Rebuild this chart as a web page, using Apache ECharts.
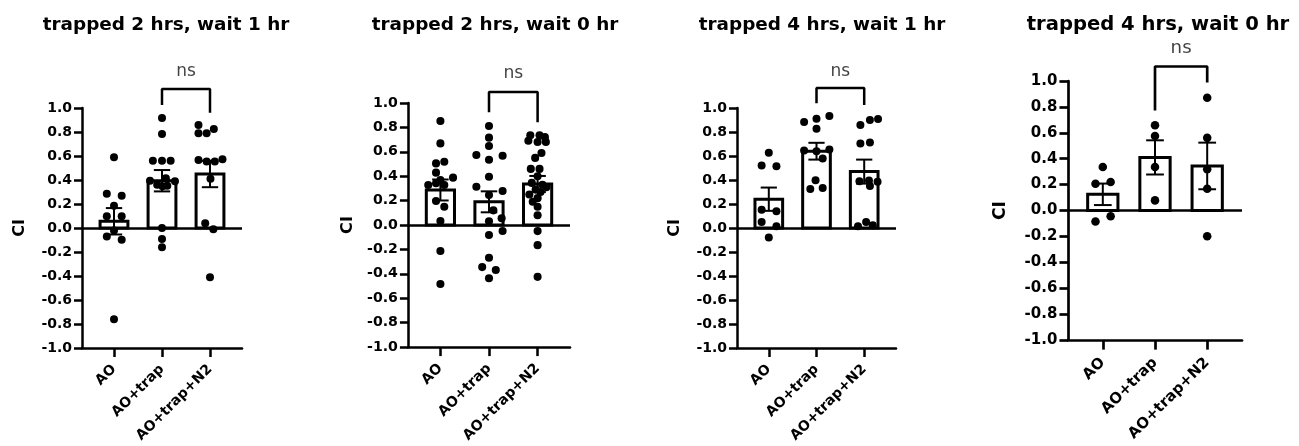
<!DOCTYPE html>
<html>
<head>
<meta charset="utf-8">
<script src="https://cdn.jsdelivr.net/npm/echarts@6/dist/echarts.min.js"></script>
<style>
  html, body { margin: 0; padding: 0; background: #fff; }
  #chart { width: 1299px; height: 446px; }
</style>
</head>
<body>
<div id="chart"></div>
<script>
// groups on the x axis
var groups = ["AO", "AO+trap", "AO+trap+N2"];
var titles = [
  "trapped 2 hrs, wait 1 hr",
  "trapped 2 hrs, wait 0 hr",
  "trapped 4 hrs, wait 1 hr",
  "trapped 4 hrs, wait 0 hr"
];
var yTicks = [-1.0, -0.8, -0.6, -0.4, -0.2, 0.0, 0.2, 0.4, 0.6, 0.8, 1.0];

// bar heights (mean) and error (SEM) per panel
var means = [
  [0.056, 0.394, 0.45],
  [0.287, 0.19, 0.336],
  [0.24, 0.64, 0.47],
  [0.125, 0.41, 0.344]
];
var sems = [
  [0.11, 0.089, 0.11],
  [0.086, 0.086, 0.066],
  [0.097, 0.07, 0.1],
  [0.083, 0.132, 0.18]
];

// individual points: [jitter, CI]
var p1AO = [[0, 0.589], [-0.15, 0.286], [0.16, 0.269], [0, 0.186], [-0.15, 0.097], [0.16, 0.097], [0, -0.02], [-0.15, -0.07], [0.16, -0.097], [0, -0.76]];
var p1Trap = [[0, 0.917], [0, 0.783], [-0.19, 0.561], [0, 0.561], [0.18, 0.561], [-0.25, 0.394], [0.08, 0.414], [0.27, 0.389], [-0.1, 0.361], [0.01, 0.347], [0.11, 0.353], [0, 0.0], [0, -0.092], [0, -0.161]];
var p1N2 = [[-0.24, 0.858], [-0.24, 0.789], [-0.07, 0.789], [0.08, 0.825], [-0.24, 0.567], [-0.07, 0.555], [0.1, 0.555], [0.26, 0.572], [0.01, 0.41], [-0.1, 0.039], [0.07, -0.011], [0, -0.41]];

var p2AO = [[0, 0.852], [0, 0.669], [-0.09, 0.505], [0.08, 0.519], [-0.09, 0.429], [0.26, 0.388], [-0.25, 0.328], [-0.09, 0.342], [0.08, 0.328], [0, 0.369], [-0.09, 0.197], [0.08, 0.15], [0, 0.033], [0, -0.213], [0, -0.484]];
var p2Trap = [[0, 0.811], [0, 0.716], [0, 0.648], [-0.26, 0.574], [0.28, 0.568], [0, 0.535], [0, 0.396], [-0.26, 0.314], [0.28, 0.279], [0, 0.246], [0.09, 0.12], [0.26, 0.055], [0, 0.03], [0.28, -0.049], [0, -0.082], [0, -0.268], [-0.14, -0.345], [0.14, -0.369], [0, -0.437]];
var p2N2 = [[-0.15, 0.735], [0.04, 0.735], [0.15, 0.72], [-0.19, 0.69], [0, 0.68], [0.17, 0.68], [0.08, 0.59], [-0.05, 0.55], [-0.14, 0.46], [0.04, 0.46], [0, 0.4], [-0.12, 0.345], [0.1, 0.33], [0.18, 0.31], [-0.04, 0.29], [0.06, 0.27], [-0.17, 0.25], [0, 0.22], [-0.1, 0.19], [0, 0.15], [0, 0.08], [0, -0.05], [0, -0.165], [0, -0.425]];

var p3AO = [[0, 0.627], [-0.15, 0.521], [0.16, 0.515], [-0.15, 0.153], [0.16, 0.139], [-0.15, 0.05], [0.16, 0.014], [0, -0.08]];
var p3Trap = [[-0.26, 0.883], [0, 0.911], [0.27, 0.933], [0, 0.827], [-0.26, 0.645], [0, 0.64], [0.27, 0.655], [0.13, 0.58], [-0.02, 0.398], [-0.13, 0.326], [0.13, 0.334]];
var p3N2 = [[-0.08, 0.858], [0.12, 0.9], [0.29, 0.909], [-0.08, 0.705], [0.12, 0.713], [-0.1, 0.39], [0.1, 0.395], [0.28, 0.385], [0.12, 0.35], [-0.13, 0.014], [0.04, 0.05], [0.18, 0.022]];

var p4AO = [[0, 0.336], [-0.14, 0.207], [0.15, 0.22], [-0.14, -0.085], [0.15, -0.044]];
var p4Trap = [[0, 0.659], [0, 0.576], [0, 0.336], [0, 0.078]];
var p4N2 = [[0, 0.871], [0, 0.561], [0, 0.318], [0, 0.168], [0, -0.199]];

var points = [
  [p1AO, p1Trap, p1N2],
  [p2AO, p2Trap, p2N2],
  [p3AO, p3Trap, p3N2],
  [p4AO, p4Trap, p4N2]
];

// significance bracket: [left leg end, top, right leg end], and "ns" height
var brackets = [
  [1.025, 1.158, 0.96],
  [0.924, 1.09, 0.842],
  [1.04, 1.167, 1.025],
  [0.772, 1.112, 0.988]
];
var nsY = [1.3, 1.24, 1.3, 1.25];

// layout of each panel (pixels)
var panels = [
  { left: 82, top: 108, width: 160, height: 240, titleX: 161, nameGap: 54, s: 1 },
  { left: 408, top: 103, width: 162, height: 244, titleX: 490, nameGap: 52, s: 1.01 },
  { left: 737, top: 108, width: 159, height: 240, titleX: 817, nameGap: 54, s: 1 },
  { left: 1068, top: 81, width: 174, height: 259, titleX: 1153, nameGap: 59, s: 1.07 }
];

var FONT = "DejaVu Sans";
var chart = echarts.init(document.getElementById("chart"));

function renderBar(params, api) {
  var x = api.value(0), m = api.value(1), s = api.value(2);
  var hw = 0.29, cw = 0.17;
  var a = api.coord([x - hw, 0]);
  var b = api.coord([x + hw, m]);
  var up = api.coord([x, m + s]);
  var dn = api.coord([x, m - s]);
  var cl = api.coord([x - cw, m]);
  var cr = api.coord([x + cw, m]);
  return {
    type: "group",
    children: [
      {
        type: "rect",
        shape: { x: a[0], y: Math.min(a[1], b[1]), width: b[0] - a[0], height: Math.abs(b[1] - a[1]) },
        style: { fill: "#fff", stroke: "#000", lineWidth: 3 }
      },
      { type: "line", shape: { x1: up[0], y1: up[1], x2: dn[0], y2: dn[1] }, style: { stroke: "#000", lineWidth: 2 } },
      { type: "line", shape: { x1: cl[0], y1: up[1], x2: cr[0], y2: up[1] }, style: { stroke: "#000", lineWidth: 2 } },
      { type: "line", shape: { x1: cl[0], y1: dn[1], x2: cr[0], y2: dn[1] }, style: { stroke: "#000", lineWidth: 2 } }
    ]
  };
}

var option = {
  backgroundColor: "#fff",
  animation: false,
  title: [],
  grid: [],
  xAxis: [],
  yAxis: [],
  series: []
};

panels.forEach(function (p, i) {
  var s = p.s;
  option.title.push({
    text: titles[i],
    left: p.titleX,
    top: i == 3 ? 10 : 11,
    textAlign: "center",
    textStyle: { fontFamily: FONT, fontWeight: "bold", fontSize: 18.4 * (i == 3 ? 1.065 : 1), color: "#000" }
  });
  option.grid.push({
    left: p.left, top: p.top, width: p.width, height: p.height,
    containLabel: false, outerBoundsMode: "none"
  });
  option.xAxis.push({
    gridIndex: i,
    type: "value",
    min: -2 / 3,
    max: 8 / 3,
    splitLine: { show: false },
    axisLine: { onZero: false, lineStyle: { color: "#000", width: 2.5 * s } },
    axisTick: { customValues: [0, 1, 2], length: 9 * s, lineStyle: { color: "#000", width: 2.5 * s } },
    axisLabel: {
      customValues: [0, 1, 2],
      rotate: 45,
      margin: 19 * s,
      color: "#000",
      fontFamily: FONT,
      fontWeight: "bold",
      fontSize: 14 * s,
      formatter: function (v) { return groups[Math.round(v)]; }
    }
  });
  option.yAxis.push({
    gridIndex: i,
    type: "value",
    min: -1,
    max: 1,
    interval: 0.2,
    name: "CI",
    nameLocation: "middle",
    nameGap: p.nameGap,
    nameTextStyle: { fontFamily: FONT, fontWeight: "bold", fontSize: 16 * s, color: "#000" },
    splitLine: { show: false },
    axisLine: { onZero: false, lineStyle: { color: "#000", width: 2.5 * s } },
    axisTick: { length: 8 * s, lineStyle: { color: "#000", width: 2.5 * s } },
    axisLabel: {
      margin: 10 * s,
      color: "#000",
      fontFamily: FONT,
      fontWeight: "bold",
      fontSize: 14 * s,
      formatter: function (v) { return v.toFixed(1); }
    }
  });

  // bars with SEM error bars, plus the baseline at 0
  option.series.push({
    type: "custom",
    xAxisIndex: i,
    yAxisIndex: i,
    z: 2,
    renderItem: renderBar,
    data: means[i].map(function (m, g) { return [g, m, sems[i][g]]; }),
    markLine: {
      silent: true,
      symbol: ["none", "none"],
      label: { show: false },
      lineStyle: { color: "#000", width: 2.5 * s, type: "solid" },
      data: [{ yAxis: 0 }]
    }
  });

  // individual points
  var pts = [];
  points[i].forEach(function (grp, g) {
    grp.forEach(function (d) { pts.push([g + d[0], d[1]]); });
  });
  option.series.push({
    type: "scatter",
    xAxisIndex: i,
    yAxisIndex: i,
    z: 3,
    symbolSize: 8 * s,
    itemStyle: { color: "#000", opacity: 1 },
    data: pts
  });

  // significance bracket between AO+trap and AO+trap+N2
  var br = brackets[i];
  option.series.push({
    type: "line",
    xAxisIndex: i,
    yAxisIndex: i,
    clip: false,
    symbol: "none",
    lineStyle: { color: "#000", width: 2.5 * s },
    data: [[1, br[0]], [1, br[1]], [2, br[1]], [2, br[2]]]
  });
  option.series.push({
    type: "scatter",
    xAxisIndex: i,
    yAxisIndex: i,
    clip: false,
    symbolSize: 1,
    itemStyle: { color: "rgba(0,0,0,0)" },
    label: {
      show: true,
      position: "inside",
      formatter: "ns",
      color: "#111",
      fontFamily: FONT,
      fontSize: 17 * s
    },
    data: [[1.5, nsY[i]]]
  });
});

chart.setOption(option);
</script>
</body>
</html>
